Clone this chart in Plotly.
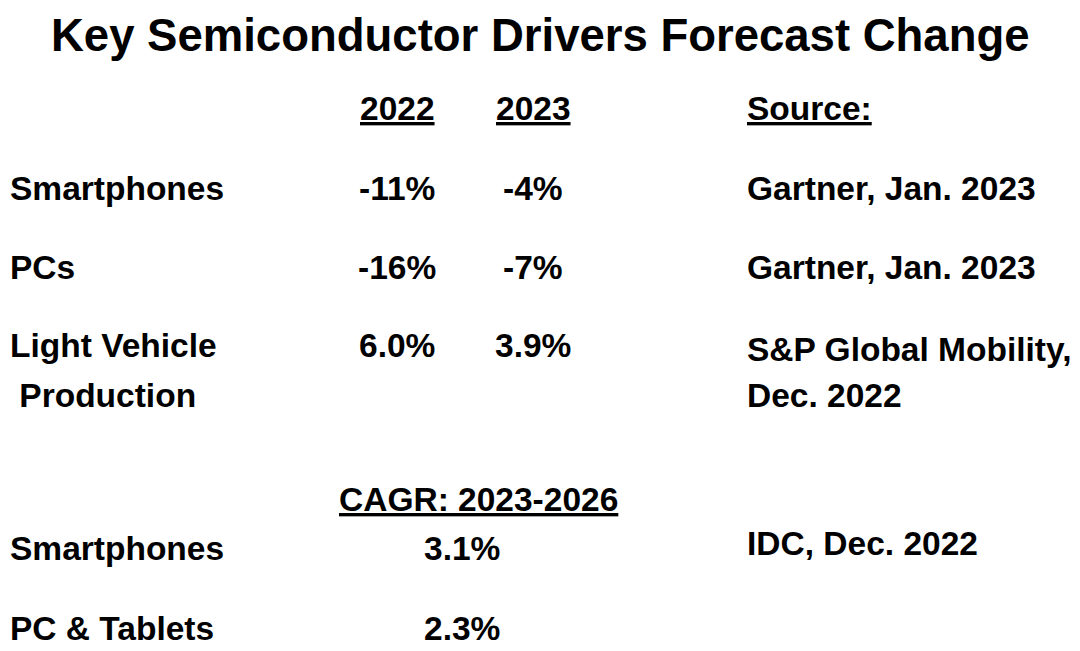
import plotly.graph_objects as go

# table content
title = "Key Semiconductor Drivers Forecast Change"
year_headers = ["2022", "2023"]
source_header = "Source:"
categories = ["Smartphones", "PCs", "Light Vehicle<br>\u00a0Production"]
values_2022 = ["-11%", "-16%", "6.0%"]
values_2023 = ["-4%", "-7%", "3.9%"]
sources = ["Gartner, Jan. 2023", "Gartner, Jan. 2023", "S&P Global Mobility,<br>Dec. 2022"]

cagr_header = "CAGR: 2023-2026"
cagr_categories = ["Smartphones", "PC & Tablets"]
cagr_values = ["3.1%", "2.3%"]
cagr_sources = ["IDC, Dec. 2022", ""]

W, H = 1080, 651
FONT = "Liberation Sans, Arial, sans-serif"
BODY = 33.5
PAGE_MARGIN = 8  # default body margin of the html page

# layout in window pixels (left/centre x, centre y of first line)
x_label = 8
x_2022 = 397
x_2023 = 533
x_source = 745
x_cagr_head = 478
x_cagr_val = 462
y_head = 108
row_y = [188, 267, 345]
src_y = [188, 267, 350]
label_gap = 50
source_gap = 45
y_cagr_head = 499
cagr_row_y = [548, 628]
cagr_src_y = [543, 628]

fig = go.Figure()
annotations = []


def put(text, x, y, anchor="left", size=BODY, underline=False, gap=48):
    lines = text.split("<br>")
    for i, line in enumerate(lines):
        if not line:
            continue
        t = "<b>" + (f"<u>{line}</u>" if underline else line) + "</b>"
        px = x - PAGE_MARGIN
        py = y + i * gap - PAGE_MARGIN
        annotations.append(dict(
            text=t, x=px / W, y=1 - py / H,
            xref="paper", yref="paper", xanchor=anchor, yanchor="middle",
            showarrow=False, font=dict(family=FONT, size=size, color="black"),
        ))


put(title, 540, 35, anchor="center", size=45.5)
put(year_headers[0], x_2022, y_head, anchor="center", underline=True)
put(year_headers[1], x_2023, y_head, anchor="center", underline=True)
put(source_header, x_source, y_head, underline=True)

for i in range(len(categories)):
    put(categories[i], x_label, row_y[i], gap=label_gap)
    put(values_2022[i], x_2022, row_y[i], anchor="center")
    put(values_2023[i], x_2023, row_y[i], anchor="center")
    put(sources[i], x_source, src_y[i], gap=source_gap)

put(cagr_header, x_cagr_head, y_cagr_head, anchor="center", underline=True)
for i in range(len(cagr_categories)):
    put(cagr_categories[i], x_label, cagr_row_y[i])
    put(cagr_values[i], x_cagr_val, cagr_row_y[i], anchor="center")
    put(cagr_sources[i], x_source, cagr_src_y[i])

fig.update_layout(
    width=W, height=H,
    margin=dict(l=0, r=0, t=0, b=0),
    paper_bgcolor="white", plot_bgcolor="white",
    xaxis=dict(visible=False), yaxis=dict(visible=False),
    annotations=annotations,
    showlegend=False,
)

fig.write_html("out.html")
